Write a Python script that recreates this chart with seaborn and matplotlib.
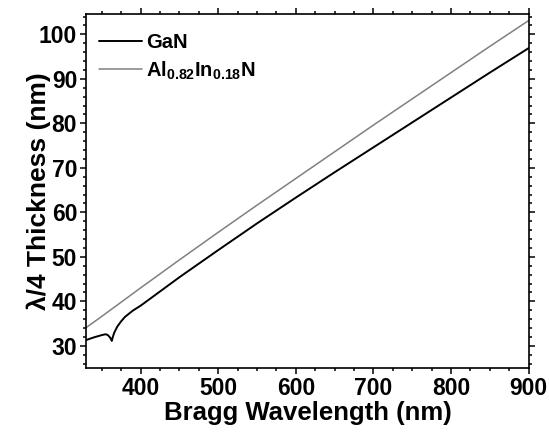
import numpy as np
import pandas as pd
import matplotlib
matplotlib.use("Agg")
import matplotlib.pyplot as plt
from matplotlib.ticker import MultipleLocator
import seaborn as sns

# values
gan_wl = [330, 340, 350, 355, 358, 361, 363, 364, 366, 370, 375, 380, 390,
          400, 450, 500, 550, 600, 650, 700, 750, 800, 850, 900]
gan_t = [31.3, 31.9, 32.4, 32.6, 32.4, 31.8, 31.1, 31.8, 32.9, 34.3, 35.5,
         36.5, 37.9, 39.0, 45.4, 51.5, 57.5, 63.3, 69.0, 74.6, 80.2, 85.8,
         91.4, 96.9]
alinn_wl = [330, 350, 375, 400, 450, 500, 550, 600, 650, 700, 750, 800, 850, 900]
alinn_t = [34.1, 36.6, 39.8, 43.0, 49.3, 55.5, 61.6, 67.6, 73.6, 79.6, 85.5,
           91.4, 97.3, 103.1]
labels = ["GaN", r"Al$_{0.82}$In$_{0.18}$N"]
colors = ["#000000", "#808080"]

df = pd.concat([
    pd.DataFrame({"wl": gan_wl, "t": gan_t, "mat": labels[0]}),
    pd.DataFrame({"wl": alinn_wl, "t": alinn_t, "mat": labels[1]}),
])

sns.set_theme(style="ticks")
plt.rcParams["font.family"] = ["Liberation Sans", "DejaVu Sans"]
plt.rcParams["font.weight"] = "bold"
plt.rcParams["text.color"] = "black"
plt.rcParams["mathtext.fontset"] = "custom"
plt.rcParams["mathtext.rm"] = "Liberation Sans:bold"
plt.rcParams["mathtext.it"] = "Liberation Sans:bold"
plt.rcParams["mathtext.bf"] = "Liberation Sans:bold"

fig = plt.figure(figsize=(5.49, 4.33), dpi=100)
ax = fig.add_axes([0.157, 0.150, 0.806, 0.818])

sns.lineplot(data=df, x="wl", y="t", hue="mat", palette=colors,
             hue_order=labels, sort=False, estimator=None, legend=False, ax=ax)
ax.lines[0].set_linewidth(1.4)
ax.lines[1].set_linewidth(1.1)

ax.set_xlim(330, 900)
ax.set_ylim(25, 104.6)
ax.xaxis.set_major_locator(MultipleLocator(100))
ax.xaxis.set_minor_locator(MultipleLocator(25))
ax.yaxis.set_major_locator(MultipleLocator(10))
ax.yaxis.set_minor_locator(MultipleLocator(2))
ax.tick_params(which="both", direction="out", top=True, right=True,
               color="black", width=1.1, labelsize=16.5, pad=2,
               labelcolor="black")
ax.tick_params(which="major", length=4.5)
ax.tick_params(which="minor", length=2.5)
for lab in ax.get_xticklabels() + ax.get_yticklabels():
    lab.set_fontweight("bold")
for spine in ax.spines.values():
    spine.set_color("black")
    spine.set_linewidth(1.2)

ax.set_xlabel("Bragg Wavelength (nm)", fontsize=18.5, fontweight="bold",
              color="black", labelpad=1)
ax.set_ylabel("λ/4 Thickness (nm)", fontsize=19, fontweight="bold",
              color="black", labelpad=-9)

leg = ax.legend(ax.lines[:2], labels, loc="upper left", frameon=False,
                fontsize=14.5, handlelength=2.15, handletextpad=0.2,
                labelspacing=0.35, borderaxespad=0, borderpad=0,
                bbox_to_anchor=(0.029, 0.945))
for t in leg.get_texts():
    t.set_fontweight("bold")
    t.set_color("black")

fig.savefig("out.png", dpi=100)
